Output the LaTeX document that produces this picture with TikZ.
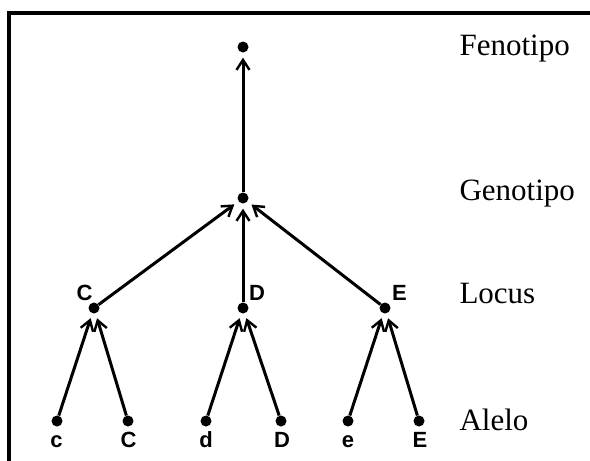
\documentclass[tikz,border=0pt]{standalone}
\usepackage{fontspec}
\setmainfont{Liberation Serif}
\newfontfamily\lblfont{Liberation Sans}
\usetikzlibrary{arrows.meta}
\begin{document}
\begin{tikzpicture}[x=1pt,y=-1pt,
  dot/.style={circle,fill=black,inner sep=0pt,minimum size=11pt},
  edge/.style={line width=3pt,-{Straight Barb[length=10pt,width=13pt,line width=2.4pt]},shorten >=5pt},
  level/.style={anchor=base west,font=\fontsize{31}{32}\selectfont},
  locuslbl/.style={anchor=base,font=\lblfont\bfseries\fontsize{22}{24}\selectfont,inner sep=0pt},
  allelelbl/.style={anchor=base,font=\lblfont\bfseries\fontsize{22}{24}\selectfont,inner sep=0pt}]
\useasboundingbox (0,0) rectangle (590,461);
\fill[white] (0,0) rectangle (590,461);
% frame: top and left rules only
\draw[line width=4pt] (9,461) -- (9,13) -- (590,13);

% phenotype and genotype
\node[dot] (fen) at (243,47) {};
\node[dot] (gen) at (243,198) {};
% loci
\node[dot] (lc) at (94,308) {};
\node[dot] (ld) at (243,308) {};
\node[dot] (le) at (385,308) {};
% alleles
\node[dot] (ac) at (57,421) {};
\node[dot] (aC) at (128,421) {};
\node[dot] (ad) at (206,421) {};
\node[dot] (aD) at (281,421) {};
\node[dot] (ae) at (348,421) {};
\node[dot] (aE) at (419,421) {};

% locus labels
\node[locuslbl] (tc) at (84.5,300) {C};
\node[locuslbl] (td) at (257,300) {D};
\node[locuslbl] (te) at (399.5,300) {E};
% allele labels
\node[allelelbl] (tac) at (56.5,447) {c};
\node[allelelbl] (taC) at (128.5,447) {C};
\node[allelelbl] (tad) at (206,447) {d};
\node[allelelbl] (taD) at (282,447) {D};
\node[allelelbl] (tae) at (348,447) {e};
\node[allelelbl] (taE) at (420,447) {E};

% connectors
\draw[edge] (gen) -- (fen);
\draw[edge] (lc) -- (gen);
\draw[edge] (ld) -- (gen);
\draw[edge] (le) -- (gen);
\draw[edge] (ac) -- (lc);
\draw[edge] (aC) -- (lc);
\draw[edge] (ad) -- (ld);
\draw[edge] (aD) -- (ld);
\draw[edge] (ae) -- (le);
\draw[edge] (aE) -- (le);

% level names
\node[level] (nfen) at (456,55) {Fenotipo};
\node[level] (ngen) at (456,200) {Genotipo};
\node[level] (nloc) at (456,303) {Locus};
\node[level] (nale) at (456,430) {Alelo};
\end{tikzpicture}
\end{document}
